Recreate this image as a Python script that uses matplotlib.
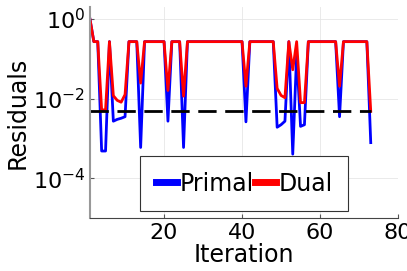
"""plot.py — primal / dual residuals per iteration (log scale)."""
import matplotlib
matplotlib.use("Agg")
import matplotlib.pyplot as plt
import numpy as np

# ── Data ──────────────────────────────────────────────────────────────
iterations = np.arange(1, 74)
tolerance = 5e-3

T = 0.27  # plateau level the residuals keep returning to
primal = [
    1.0, T, T, 4.8e-4, 4.8e-4, T, 2.7e-3, 3.0e-3, 3.2e-3, 3.5e-3,
    T, T, T, 5.9e-4, T, T, T, T, T, T,
    2.7e-3, T, T, T, 5.9e-4, T, T, T, T, T,
    T, T, T, T, T, T, T, T, T, T,
    2.6e-3, T, T, T, T, T, T, T, 1.9e-3, 2.2e-3,
    2.7e-3, T, 4.0e-4, 0.126, 2.0e-3, 2.2e-3, T, T, T, T,
    T, T, T, T, 3.5e-3, T, T, T, T, T,
    T, T, 7.8e-4,
]
dual = [
    1.0, T, T, 5.2e-3, 5.2e-3, T, 0.0118, 9.0e-3, 8.1e-3, 0.0126,
    T, T, T, 0.0245, T, T, T, T, T, T,
    0.016, T, T, T, 0.0115, T, T, T, T, T,
    T, T, T, T, T, T, T, T, T, T,
    0.0204, T, T, T, T, T, T, T, 0.018, 0.012,
    0.0105, T, 0.053, T, 7.9e-3, 7.9e-3, T, T, T, T,
    T, T, T, T, 0.0204, T, T, T, T, T,
    T, T, 4.8e-3,
]

# ── Figure ────────────────────────────────────────────────────────────
fig = plt.figure(figsize=(4.07, 2.71), dpi=100)
ax = fig.add_axes([0.221, 0.196, 0.757, 0.778])

ax.plot(iterations, primal, color="#0000ff", lw=2, label="Primal")
ax.plot(iterations, dual, color="#ff0000", lw=2, label="Dual")
ax.plot([iterations[0], iterations[-1]], [tolerance, tolerance],
        color="black", lw=2, linestyle=(0, (6.6, 3.1)))

ax.set_yscale("log")
ax.set_xlim(1, 80)
ax.set_ylim(1e-5, 2)
ax.set_xticks([20, 40, 60, 80])
ax.set_yticks([1e0, 1e-2, 1e-4])
ax.set_yticklabels([r"$10^{0}$", r"$10^{-2}$", r"$10^{-4}$"])
ax.yaxis.set_minor_locator(matplotlib.ticker.NullLocator())
ax.tick_params(direction="in", length=3, labelsize=16, color="#555555")

ax.set_xlabel("Iteration", fontsize=17, labelpad=0)
ax.set_ylabel("Residuals", fontsize=17, labelpad=2)

ax.grid(True, color="#e6e6e6", lw=0.6)
ax.set_axisbelow(True)
for side in ("top", "right"):
    ax.spines[side].set_visible(False)
ax.spines["left"].set_color("#999999")
ax.spines["left"].set_linewidth(1.5)
ax.spines["bottom"].set_color("#444444")

leg = ax.legend(loc="lower center", bbox_to_anchor=(0.5, 0.033), ncol=2,
                fontsize=17, frameon=True, fancybox=False, framealpha=1,
                edgecolor="#333333", handlelength=0.9, handletextpad=0.1,
                columnspacing=0.05, borderpad=0.65, borderaxespad=0)
leg.get_frame().set_linewidth(0.8)
for line in leg.get_lines():
    line.set_linewidth(5)

fig.savefig("out.png", dpi=100)
